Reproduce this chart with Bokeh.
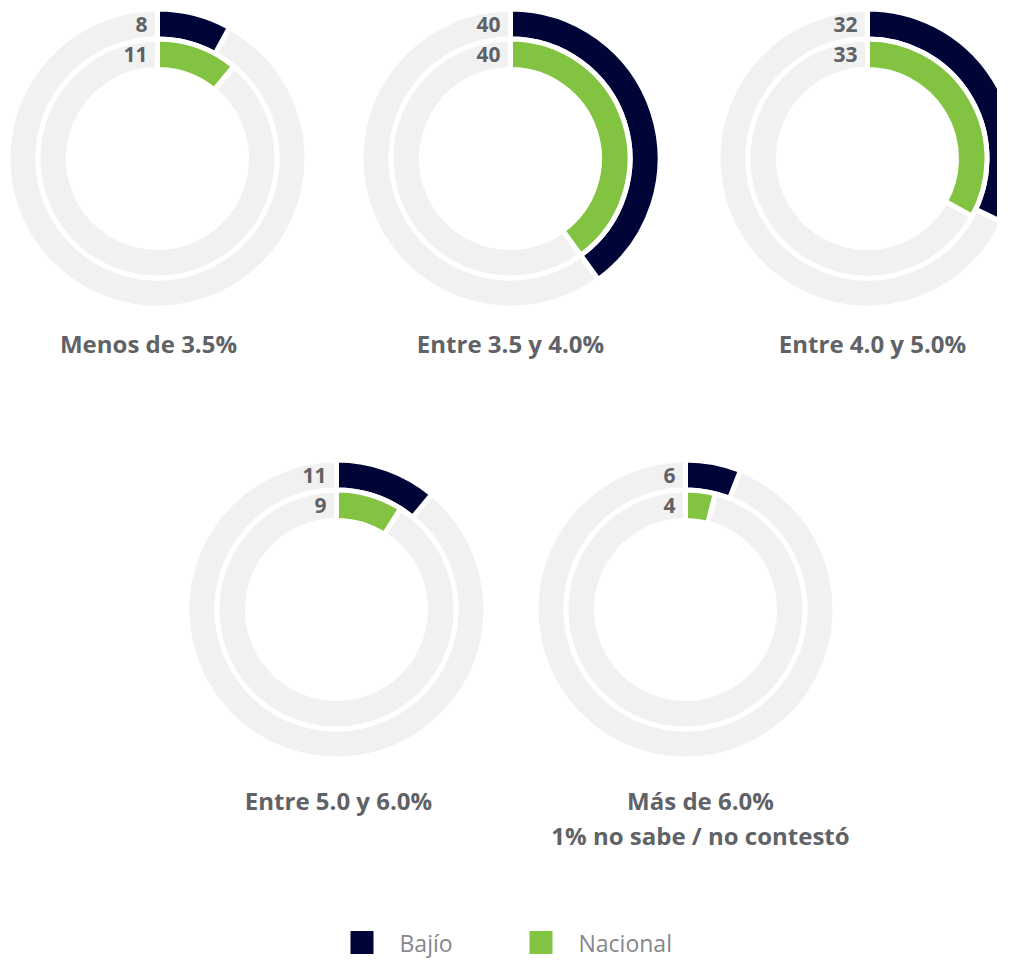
import math
from bokeh.plotting import figure
from bokeh.models import Range1d, ColumnDataSource
from bokeh.core.properties import value
from bokeh.embed import file_html
from bokeh.resources import INLINE

# ---- data ----
categories = ["Menos de 3.5%", "Entre 3.5 y 4.0%", "Entre 4.0 y 5.0%", "Entre 5.0 y 6.0%", "Más de 6.0%"]
notes = ["", "", "", "", "1% no sabe / no contestó"]
series = ["Bajío", "Nacional"]
bajio = [8, 40, 32, 11, 6]
nacional = [11, 40, 33, 9, 4]

# ---- layout (picture pixels, origin top-left) ----
W, H = 997, 963
center_x = [157, 510, 867, 336, 685]
center_py = [158, 158, 158, 609, 609]
title_x = [148, 510, 872, 338, 700]
title_py = [343, 343, 343, 800, 800]

NAVY = "#000538"
GREEN = "#82c341"
GREY = "#f1f1f1"
LABEL = "#5f6266"
FONT = value("Open Sans")

p = figure(width=W, height=H, output_backend="svg", toolbar_location=None,
           x_range=Range1d(0, W), y_range=Range1d(0, H), min_border=0)
p.axis.visible = False
p.grid.visible = False
p.outline_line_color = None
p.background_fill_color = "white"
p.border_fill_color = "white"

def Y(py):
    return H - py

rings = [(bajio, NAVY, 119.5, 149.5), (nacional, GREEN, 89.0, 119.5)]
top = math.pi / 2
for vals, color, r_in, r_out in rings:
    ends = [top - v * 3.6 * math.pi / 180 for v in vals]
    src = ColumnDataSource(dict(x=center_x, y=[Y(v) for v in center_py],
                                start=ends, end=[top] * len(vals)))
    # grey remainder
    p.annular_wedge(x="x", y="y", inner_radius=r_in, outer_radius=r_out,
                    start_angle="end", end_angle="start", direction="anticlock",
                    fill_color=GREY, line_color="white", line_width=5, source=src)
    # value arc
    p.annular_wedge(x="x", y="y", inner_radius=r_in, outer_radius=r_out,
                    start_angle="start", end_angle="end", direction="anticlock",
                    fill_color=color, line_color="white", line_width=5, source=src)
    mid = (r_in + r_out) / 2
    lsrc = ColumnDataSource(dict(x=[cx - 10 for cx in center_x],
                                 y=[Y(cy) + mid for cy in center_py],
                                 t=[str(v) for v in vals]))
    p.text(x="x", y="y", text="t", source=lsrc, text_align="right",
           text_baseline="middle", text_font=FONT, text_font_style="bold",
           text_font_size="21px", text_color=LABEL)

# titles
tsrc = ColumnDataSource(dict(x=title_x, y=[Y(v) for v in title_py], t=categories))
p.text(x="x", y="y", text="t", source=tsrc, text_align="center",
       text_baseline="middle", text_font=FONT, text_font_style="bold",
       text_font_size="24px", text_color=LABEL)
nsrc = ColumnDataSource(dict(x=title_x, y=[Y(v + 35) for v in title_py], t=notes))
p.text(x="x", y="y", text="t", source=nsrc, text_align="center",
       text_baseline="middle", text_font=FONT, text_font_style="bold",
       text_font_size="24px", text_color=LABEL)

# legend
leg_sq_x = [361.5, 540.5]
leg_txt_x = [399, 578]
leg_py = 942
p.rect(x=leg_sq_x, y=[Y(leg_py)] * 2, width=23, height=23,
       fill_color=[NAVY, GREEN], line_color=None)
p.text(x=leg_txt_x, y=[Y(leg_py)] * 2, text=series, text_align="left",
       text_baseline="middle", text_font=FONT, text_font_size="23px",
       text_color="#85888c")

open("out.html", "w").write(file_html(p, INLINE))
